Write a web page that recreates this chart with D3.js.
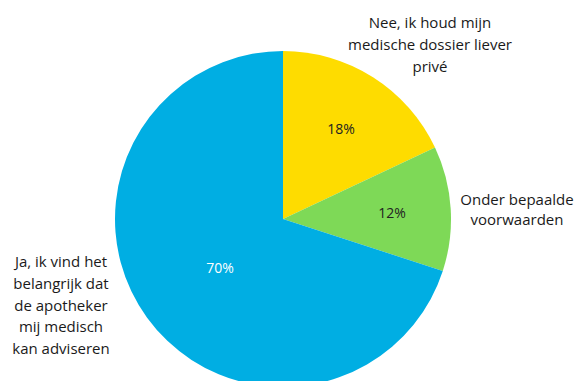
<!DOCTYPE html>
<html><head><meta charset="utf-8">
<script src="https://cdn.jsdelivr.net/npm/d3@7"></script>
<style>body{margin:0;background:#fff}svg{display:block}text{font-family:"Open Sans",sans-serif}</style>
</head><body><svg width="581" height="381"></svg>
<script>
const categories = ["Nee, ik houd mijn medische dossier liever privé", "Onder bepaalde voorwaarden", "Ja, ik vind het belangrijk dat de apotheker mij medisch kan adviseren"];
const values = [18, 12, 70];
const valueLabels = ["18%", "12%", "70%"];
const colors = ["#FEDC00", "#7ED957", "#00AEE3"];
const labelLines = [["Nee, ik houd mijn", "medische dossier liever", "privé"], ["Onder bepaalde", "voorwaarden"], ["Ja, ik vind het", "belangrijk dat", "de apotheker", "mij medisch", "kan adviseren"]];

const svg = d3.select("svg");
const cx = 283, cy = 219, r = 168;
const g = svg.append("g").attr("transform", `translate(${cx},${cy})`);
const pie = d3.pie().sort(null).value(d => d)(values);
const arc = d3.arc().innerRadius(0).outerRadius(r);
g.selectAll("path").data(pie).join("path").attr("d", arc).attr("fill", (d, i) => colors[i]);

const pctPos = [[58, -85], [109, -1], [-63, 54]];
g.selectAll("text.pct").data(pie).join("text").attr("class", "pct")
  .attr("x", (d, i) => pctPos[i][0]).attr("y", (d, i) => pctPos[i][1])
  .attr("text-anchor", "middle").attr("font-size", 14)
  .attr("fill", (d, i) => i === 2 ? "#fff" : "#222")
  .text((d, i) => valueLabels[i]);

const labelPos = [[430, 28, 22], [517, 205, 20], [61, 267, 21.8]];
labelLines.forEach((lines, i) => {
  const t = svg.append("text").attr("text-anchor", "middle").attr("font-size", 15).attr("fill", "#1a1a1a");
  lines.forEach((l, j) => t.append("tspan").attr("x", labelPos[i][0]).attr("y", labelPos[i][1] + j * labelPos[i][2]).text(l));
});
</script></body></html>
